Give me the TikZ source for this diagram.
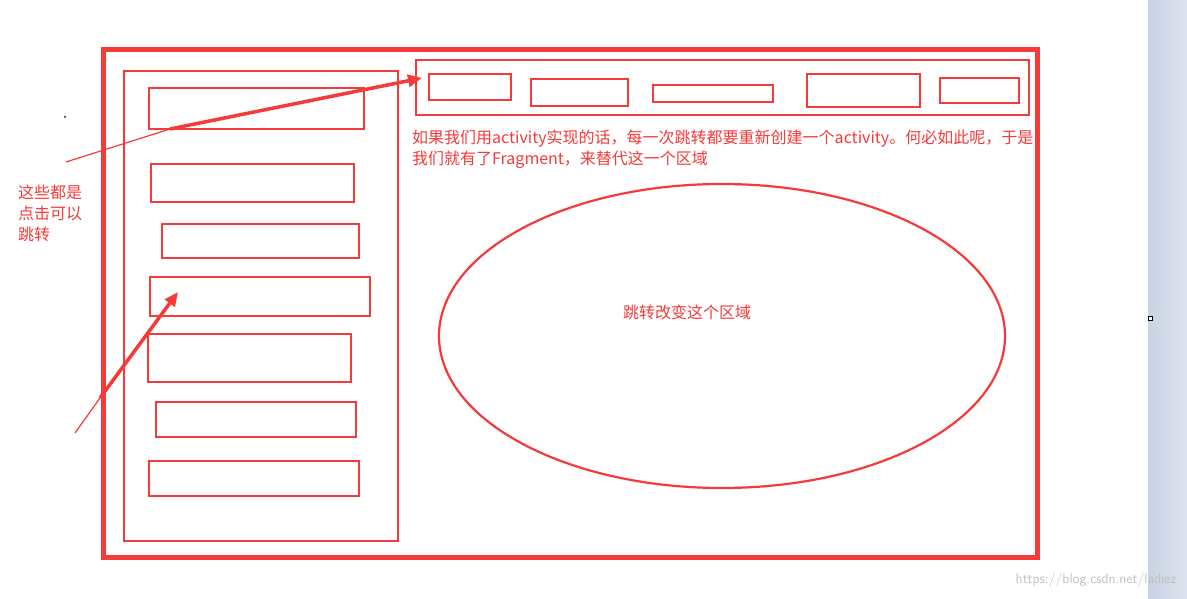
\documentclass[tikz,border=0pt]{standalone}
\usepackage{fontspec}
\usetikzlibrary{arrows.meta}
\newfontfamily\cjk{Noto Sans CJK SC}
\definecolor{rd}{HTML}{F53A3A}
\definecolor{bar}{HTML}{C9D3E3}
\definecolor{barr}{HTML}{DCE3EE}
\begin{document}
\begin{tikzpicture}[x=1pt,y=-1pt,
  box/.style={draw=rd,line width=2.2pt},
  lbl/.style={text=rd,font=\cjk\fontsize{16}{21}\selectfont,inner sep=0pt},
  arr/.style={draw=rd,line width=3.5pt,-{Triangle[length=14pt,width=12pt]}}]
\useasboundingbox (0,0) rectangle (1187,599);
\fill[white] (0,0) rectangle (1187,599);
\shade[left color=bar, right color=barr] (1148,0) rectangle (1187,599);
\draw[black,line width=0.6pt,fill=white] (1148,316) rectangle (1152,320);
\fill (65,117) circle (1pt);
\draw[draw=rd,line width=5pt] (103,50) rectangle (1037,557);
\draw[box] (124,71) rectangle (398,541);
\draw[box] (416,60) rectangle (1029,115);
\foreach \a/\b/\c/\d [count=\i] in {428/73/510/99,530/78/627/105,652/84/772/101,806/73/919/106,939/77/1018/102}
  \node[box,inner sep=0pt,minimum width=\c-\a,minimum height=\d-\b,anchor=north west] (t\i) at (\a,\b) {};
\foreach \a/\b/\c/\d [count=\i] in {148/87/363/128,150/163/353/201,161/223/358/257,149/276/369/315,147/333/350/381,155/401/355/436,148/460/358/495}
  \node[box,inner sep=0pt,minimum width=\c-\a,minimum height=\d-\b,anchor=north west] (l\i) at (\a,\b) {};
\draw[box] (722,336) ellipse [x radius=283, y radius=152];
\node[lbl,anchor=west] (txt) at (412,139) {如果我们用activity实现的话，每一次跳转都要重新创建一个activity。何必如此呢，于是};
\node[lbl,anchor=west] (txt2) at (412,160) {我们就有了Fragment，来替代这一个区域};
\node[lbl,anchor=center] (mid) at (687,312) {跳转改变这个区域};
\node[lbl,anchor=north west,align=left] (side) at (18,185) {这些都是\\点击可以\\跳转};
\node[text=gray!50,font=\fontsize{14}{16}\selectfont\sffamily,anchor=east] (wm) at (1180,580) {https://blog.csdn.net/ladiez};
\coordinate (s1) at (66,162); \coordinate (m1) at (170,129); \coordinate (e1) at (422,78);
\draw[draw=rd,line width=1.2pt] (s1) -- (m1);
\draw[arr] (m1) -- (e1);
\coordinate (s2) at (75,433); \coordinate (m2) at (100,398); \coordinate (e2) at (178,292);
\draw[draw=rd,line width=1.2pt] (s2) -- (m2);
\draw[arr] (m2) -- (e2);
\end{tikzpicture}
\end{document}
